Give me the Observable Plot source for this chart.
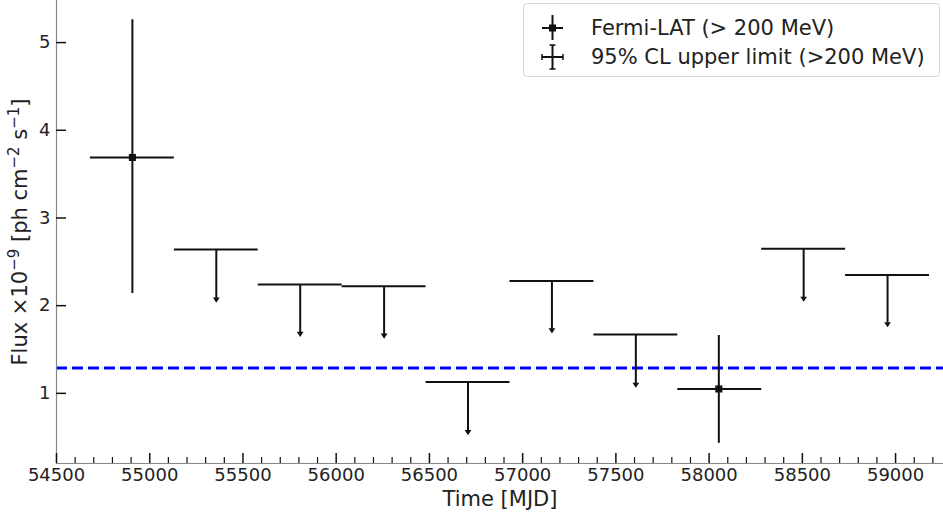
<!DOCTYPE html>
<html>
<head>
<meta charset="utf-8">
<script src="https://cdn.jsdelivr.net/npm/d3@7"></script>
<script src="https://cdn.jsdelivr.net/npm/@observablehq/plot@0.6"></script>
<style>
  html, body { margin: 0; padding: 0; background: #fff; }
  #wrap { position: relative; width: 943px; height: 520px; font-family: "DejaVu Sans", sans-serif; }
  #legend { position: absolute; left: 523px; top: 3px; width: 417px; height: 74px;
    border: 1px solid #d6d6d6; border-radius: 4px; background: rgba(255,255,255,0.85); box-sizing: border-box; }
  .glyph { position: absolute; left: 17px; }
  .lab { position: absolute; left: 67px; font-size: 21px; line-height: 24px; color: #222; white-space: nowrap; }
</style>
</head>
<body>
<div id="wrap"></div>
<script>
// ---- data ----
const detTime  = [54907, 58052];
const detStart = [54682, 57832];
const detEnd   = [55132, 58282];
const detFlux  = [3.69, 1.05];
const detLo    = [2.14, 0.43];
const detHi    = [5.26, 1.66];

const ulTime  = [55357, 55807, 56257, 56707, 57157, 57607, 58507, 58957];
const ulStart = [55132, 55582, 56032, 56482, 56932, 57382, 58282, 58732];
const ulEnd   = [55582, 56032, 56482, 56932, 57382, 57832, 58732, 59182];
const ulFlux  = [2.64, 2.24, 2.22, 1.13, 2.28, 1.67, 2.65, 2.35];
const ulTip   = [2.08, 1.69, 1.67, 0.57, 1.73, 1.11, 2.09, 1.80];

const meanFlux = 1.29;

const xMajor = [54500, 55000, 55500, 56000, 56500, 57000, 57500, 58000, 58500, 59000];
const xMinor = [54600, 54700, 54800, 54900, 55100, 55200, 55300, 55400, 55600, 55700, 55800, 55900,
  56100, 56200, 56300, 56400, 56600, 56700, 56800, 56900, 57100, 57200, 57300, 57400,
  57600, 57700, 57800, 57900, 58100, 58200, 58300, 58400, 58600, 58700, 58800, 58900,
  59100, 59200];
const yMajor = [1, 2, 3, 4, 5];

const xLabel = "Time [MJD]";
// [text, isSuperscript]
const yLabelParts = [["Flux \u00d710", false], ["\u22129", true], [" [ph cm", false], ["\u22122", true], [" s", false], ["\u22121", true], ["]", false]];
const yLabel = yLabelParts.map(p => p[0]).join("");
const legendLabels = ["Fermi-LAT (> 200 MeV)", "95% CL upper limit (>200 MeV)"];

// ---- tables ----
const det = detTime.map((t, i) => ({t, s: detStart[i], e: detEnd[i], f: detFlux[i], lo: detLo[i], hi: detHi[i]}));
const ul = ulTime.map((t, i) => ({t, s: ulStart[i], e: ulEnd[i], f: ulFlux[i], tip: ulTip[i]}));

const caretDown = {
  draw(context, size) {
    const w = Math.sqrt(size) * 0.6;
    context.moveTo(-w, -w * 0.3);
    context.lineTo(w, -w * 0.3);
    context.lineTo(0, w * 1.2);
    context.closePath();
  }
};

const xmin = 54500, xmax = 59257, ymin = 0.2, ymax = 5.48;
const ink = "#111";

const chart = Plot.plot({
  width: 943,
  height: 520,
  marginLeft: 56,
  marginRight: 0,
  marginTop: 0,
  marginBottom: 57,
  style: {fontFamily: "DejaVu Sans, sans-serif", background: "#fff", overflow: "visible"},
  x: {domain: [xmin, xmax]},
  y: {domain: [ymin, ymax]},
  marks: [
    // mean line
    Plot.ruleY([meanFlux], {stroke: "#0000ff", strokeWidth: 3, strokeDasharray: "11,5"}),
    // upper limits
    Plot.ruleY(ul, {x1: "s", x2: "e", y: "f", stroke: ink, strokeWidth: 2}),
    Plot.ruleX(ul, {x: "t", y1: "f", y2: "tip", stroke: ink, strokeWidth: 2}),
    Plot.dot(ul, {x: "t", y: "tip", symbol: caretDown, r: 3.2, fill: ink, stroke: "none"}),
    // detections
    Plot.ruleY(det, {x1: "s", x2: "e", y: "f", stroke: ink, strokeWidth: 2}),
    Plot.ruleX(det, {x: "t", y1: "lo", y2: "hi", stroke: ink, strokeWidth: 2}),
    Plot.dot(det, {x: "t", y: "f", symbol: "square", r: 4, fill: ink, stroke: "none"}),
    // spines
    Plot.ruleX([xmin], {stroke: "#888", strokeWidth: 1.2}),
    Plot.ruleY([ymin], {stroke: "#888", strokeWidth: 1.2}),
    // x axis
    Plot.axisX(xMajor, {anchor: "bottom", tickSize: -10, text: null, stroke: ink, strokeWidth: 1.5}),
    Plot.axisX(xMinor, {anchor: "bottom", tickSize: -6, text: null, stroke: ink, strokeWidth: 1.2}),
    Plot.axisX(xMajor, {anchor: "bottom", tickSize: 0, tickPadding: 5, tickFormat: d => String(d), fontSize: 18, fill: "#222", label: null}),
    // y axis
    Plot.axisY(yMajor, {anchor: "left", tickSize: -10, text: null, stroke: ink, strokeWidth: 1.5}),
    Plot.axisY(yMajor, {anchor: "left", tickSize: 0, tickPadding: 6, tickFormat: d => String(d), fontSize: 18, fill: "#222", label: null}),
    // axis titles
    Plot.text([xLabel], {frameAnchor: "bottom", dy: 42, text: d => d, fontSize: 21, fill: "#222"}),
    Plot.text([yLabel], {frameAnchor: "left", dx: -36, rotate: -90, textAnchor: "middle", text: d => d, fontSize: 21, fill: "#222"})
  ]
});

// render the y label's exponents as real superscripts
for (const t of chart.querySelectorAll("text")) {
  if (t.textContent === yLabel) {
    t.textContent = "";
    const ns = "http://www.w3.org/2000/svg";
    for (const [s, sup] of yLabelParts) {
      const sp = document.createElementNS(ns, "tspan");
      sp.textContent = s;
      if (sup) { sp.setAttribute("font-size", "15"); sp.setAttribute("dy", "-8"); }
      else if (t.childNodes.length) { sp.setAttribute("dy", "8"); }
      t.appendChild(sp);
    }
  }
}

const wrap = document.getElementById("wrap");
wrap.appendChild(chart);

// legend
const legend = document.createElement("div");
legend.id = "legend";
const g1 = `<svg class="glyph" style="top:10px" width="24" height="28" viewBox="0 0 24 28"><line x1="1" y1="14" x2="22" y2="14" stroke="${ink}" stroke-width="2"/><line x1="11.5" y1="1" x2="11.5" y2="26" stroke="${ink}" stroke-width="2"/><rect x="8" y="10.5" width="7" height="7" fill="${ink}"/></svg>`;
const g2 = `<svg class="glyph" style="top:39px" width="24" height="28" viewBox="0 0 24 28"><line x1="1" y1="14" x2="22" y2="14" stroke="${ink}" stroke-width="2"/><line x1="11.5" y1="2" x2="11.5" y2="26" stroke="${ink}" stroke-width="2"/><line x1="8.5" y1="2" x2="14.5" y2="2" stroke="${ink}" stroke-width="1.5"/><line x1="8.5" y1="26" x2="14.5" y2="26" stroke="${ink}" stroke-width="1.5"/><line x1="1" y1="11" x2="1" y2="17" stroke="${ink}" stroke-width="1.5"/><line x1="22" y1="11" x2="22" y2="17" stroke="${ink}" stroke-width="1.5"/></svg>`;
legend.innerHTML = g1 + `<div class="lab" style="top:12px">${legendLabels[0]}</div>` +
                   g2 + `<div class="lab" style="top:41px">${legendLabels[1]}</div>`;
wrap.appendChild(legend);
</script>
</body>
</html>
